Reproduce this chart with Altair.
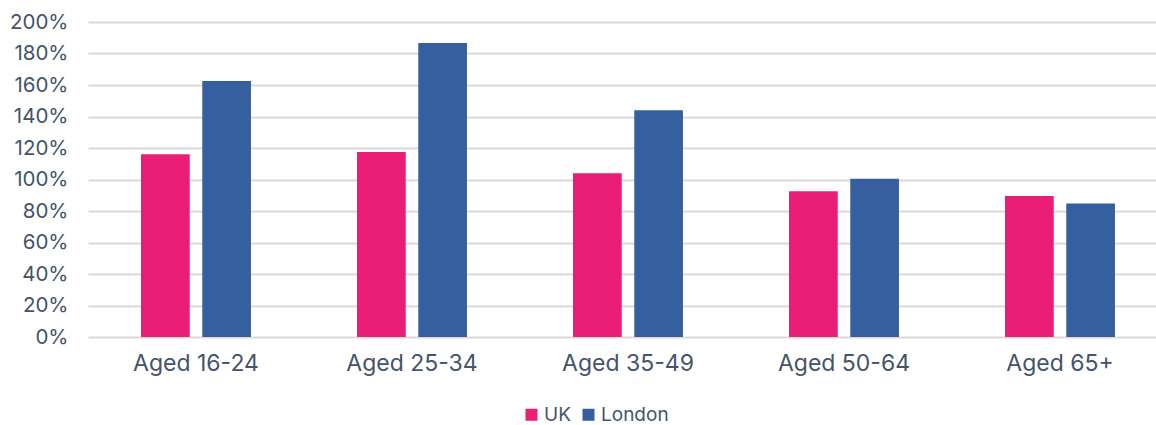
import altair as alt
import pandas as pd

categories = ["Aged 16-24", "Aged 25-34", "Aged 35-49", "Aged 50-64", "Aged 65+"]
series = ["UK", "London"]
uk_values = [1.16, 1.175, 1.039, 0.925, 0.895]
london_values = [1.625, 1.867, 1.439, 1.005, 0.848]
colors = ["#E91E74", "#355F9E"]

rows = []
for c, u, l in zip(categories, uk_values, london_values):
    rows.append({"category": c, "series": "UK", "value": u})
    rows.append({"category": c, "series": "London", "value": l})
df = pd.DataFrame(rows)

FONT = "Inter"
TEXT = "#44546A"

chart = alt.Chart(df).mark_bar().encode(
    x=alt.X("category:N", sort=categories, title=None,
            scale=alt.Scale(range=[0, 1080], paddingInner=0.491, paddingOuter=0.2455),
            axis=alt.Axis(labelAngle=0, labelFontSize=23, labelColor=TEXT, labelFont=FONT,
                          domain=False, ticks=False, labelPadding=15)),
    xOffset=alt.XOffset("series:N", sort=series,
                        scale=alt.Scale(paddingInner=0.205, paddingOuter=0)),
    y=alt.Y("value:Q", title=None,
            scale=alt.Scale(domain=[0, 2], nice=False),
            axis=alt.Axis(format=".0%", values=[i / 5 for i in range(11)],
                          labelFontSize=20.5, labelColor=TEXT, labelFont=FONT,
                          domain=False, ticks=False, labelPadding=20,
                          gridColor="#D9D9D9", gridWidth=2)),
    color=alt.Color("series:N", sort=series,
                    scale=alt.Scale(domain=series, range=colors),
                    legend=alt.Legend(title=None, orient="none", direction="horizontal",
                                      legendX=434, legendY=383,
                                      symbolType="square", symbolSize=144,
                                      symbolStrokeWidth=0,
                                      labelFontSize=19, labelColor=TEXT, labelFont=FONT,
                                      columnPadding=8, labelOffset=3)),
).properties(
    width=1068, height=315,
    autosize=alt.AutoSizeParams(type="none"),
    padding={"left": 88, "top": 22, "right": 0, "bottom": 88},
).configure_view(stroke=None)

chart.save("out.html", embed_options={"renderer": "svg", "actions": False})
